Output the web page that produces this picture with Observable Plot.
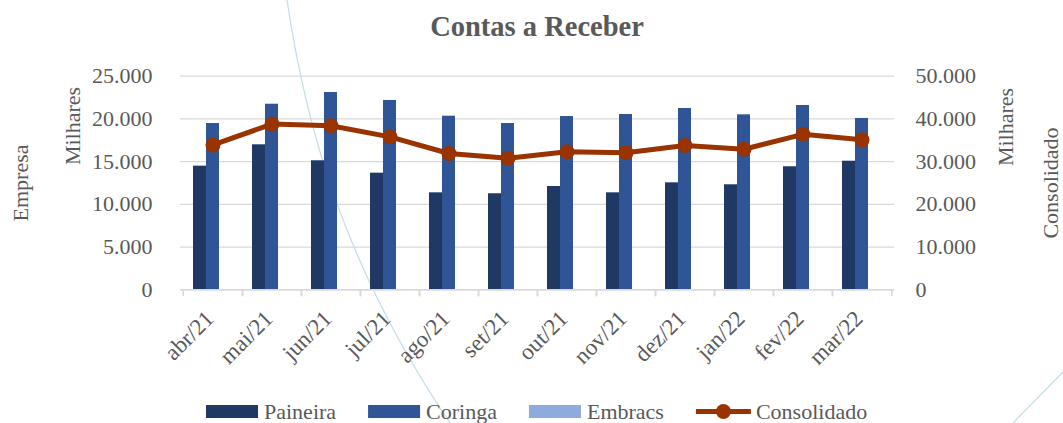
<!DOCTYPE html>
<html><head><meta charset="utf-8">
<script src="https://cdn.jsdelivr.net/npm/d3@7"></script>
<script src="https://cdn.jsdelivr.net/npm/@observablehq/plot@0.6"></script>
<style>
html{margin:0;padding:0;background:#fff;}
body{margin:0;padding:0;width:1063px;height:423px;overflow:hidden;position:relative;font-family:"Liberation Serif",serif;color:#595959;}
#deco{position:absolute;left:0;top:0;z-index:-1;pointer-events:none;}
#title{height:50px;box-sizing:border-box;padding:2px 169px 0 180px;text-align:center;font-weight:bold;font-size:28.5px;line-height:50px;font-family:"Liberation Serif",serif;}
#chart{height:320px;}
#legend{display:block;}
</style></head>
<body>
<svg id="deco" width="1063" height="423"><path d="M287 0 C305 120 340 260 450 423" fill="none" stroke="#c5dfe8" stroke-width="1.3"/><path d="M1063 372 L1013 423" fill="none" stroke="#c5dfe8" stroke-width="1.3"/></svg>
<div id="title">Contas a Receber</div>
<div id="chart"></div>
<svg id="legend" width="1063" height="53"></svg>
<script>
const months = ["abr/21","mai/21","jun/21","jul/21","ago/21","set/21","out/21","nov/21","dez/21","jan/22","fev/22","mar/22"];
const paineira = [14470,16970,15100,13650,11350,11240,12090,11350,12520,12290,14400,15050];
const coringa = [19460,21720,23090,22160,20320,19460,20280,20520,21220,20480,21570,20050];
const embracs = [0,0,0,0,0,0,0,0,0,0,0,0];
const consolidado = [33900,38800,38400,35800,31900,30800,32300,32100,33800,32900,36400,35100];
const leftTicks = [0,5000,10000,15000,20000,25000];
const rightTicks = [0,10000,20000,30000,40000,50000];
const seriesNames = ["Paineira","Coringa","Embracs","Consolidado"];
const seriesColors = ["#203864","#2f5597","#8faadc","#993300"];

const loc = d3.formatLocale({decimal:",", thousands:".", grouping:[3], currency:["R$",""]});
const fmt = loc.format(",.0f");
const ratio = rightTicks[rightTicks.length-1] / leftTicks[leftTicks.length-1];

const W = 1063, H = 320, mL = 180, mR = 169, mT = 25.7, mB = 80.7;
const padIn = 0.3445;
const step = (W - mL - mR) / months.length;
const barW = step * (1 - padIn) / 3;

const rows = months.map((m, i) => ({month: m, paineira: paineira[i], coringa: coringa[i], embracs: embracs[i], cons: consolidado[i]}));

const chart = Plot.plot({
  width: W, height: H, marginLeft: mL, marginRight: mR, marginTop: mT, marginBottom: mB,
  style: {fontFamily: "'Liberation Serif', serif", fontSize: "22px", color: "#595959", background: "transparent", overflow: "visible"},
  x: {type: "band", domain: months, paddingInner: padIn, paddingOuter: padIn / 2, axis: null},
  y: {domain: [0, leftTicks[leftTicks.length-1]], axis: null},
  marks: [
    Plot.gridY(leftTicks, {stroke: "#d9d9d9", strokeOpacity: 1, strokeWidth: 1.3}),
    Plot.barY(rows, {x: "month", y: "paineira", fill: seriesColors[0], insetRight: 2 * barW}),
    Plot.barY(rows, {x: "month", y: "coringa", fill: seriesColors[1], insetLeft: barW, insetRight: barW}),
    Plot.barY(rows, {x: "month", y: "embracs", fill: seriesColors[2], insetLeft: 2 * barW}),
    Plot.ruleY([0], {stroke: "#d9d9d9", strokeWidth: 1.5}),
    Plot.axisX({tickSize: 7, tickFormat: () => "", label: null, stroke: "#d9d9d9", strokeWidth: 1.5, dx: -step / 2}),
    Plot.axisX({tickSize: 7, tickFormat: () => "", label: null, stroke: "#d9d9d9", strokeWidth: 1.5, dx: step / 2}),
    Plot.axisX({tickSize: 0, tickPadding: 25, dx: -3, tickRotate: -45, fontSize: 23, label: null, fill: "#595959"}),
    Plot.axisY(leftTicks, {anchor: "left", tickSize: 0, tickPadding: 28, tickFormat: fmt, label: null, fill: "#595959"}),
    Plot.axisY(leftTicks, {anchor: "right", tickSize: 0, tickPadding: 21, tickFormat: d => fmt(d * ratio), label: null, fill: "#595959"}),
    Plot.lineY(rows, {x: "month", y: d => d.cons / ratio, stroke: seriesColors[3], strokeWidth: 5}),
    Plot.dot(rows, {x: "month", y: d => d.cons / ratio, r: 7.5, fill: seriesColors[3]}),
    Plot.text(["Milhares"], {frameAnchor: "left", textAnchor: "middle", rotate: -90, dx: -108, dy: -57, fill: "#595959"}),
    Plot.text(["Empresa"], {frameAnchor: "left", textAnchor: "middle", rotate: -90, dx: -160, dy: 0, fill: "#595959"}),
    Plot.text(["Milhares"], {frameAnchor: "right", textAnchor: "middle", rotate: -90, dx: 111, dy: -56, fill: "#595959"}),
    Plot.text(["Consolidado"], {frameAnchor: "right", textAnchor: "middle", rotate: -90, dx: 156, dy: 0, fill: "#595959"})
  ]
});
document.getElementById("chart").appendChild(chart);

// legend (SVG, below the chart)
const lg = d3.select("#legend");
const cy = 41.5;
const ctx = document.createElement("canvas").getContext("2d");
ctx.font = "22px 'Liberation Serif'";
let x = 206;
seriesNames.forEach((name, i) => {
  if (i === 3) {
    lg.append("line").attr("x1", x).attr("x2", x + 55).attr("y1", cy).attr("y2", cy)
      .attr("stroke", seriesColors[i]).attr("stroke-width", 5);
    lg.append("circle").attr("cx", x + 27.5).attr("cy", cy).attr("r", 7.5).attr("fill", seriesColors[i]);
    x += 60;
  } else {
    lg.append("rect").attr("x", x).attr("y", cy - 6.5).attr("width", 52).attr("height", 13).attr("fill", seriesColors[i]);
    x += 58;
  }
  lg.append("text").attr("x", x).attr("y", cy).attr("dy", "0.33em")
    .attr("font-family", "'Liberation Serif', serif").attr("font-size", 22).attr("fill", "#595959")
    .text(name);
  x += ctx.measureText(name).width + 32;
});
</script>
</body></html>
